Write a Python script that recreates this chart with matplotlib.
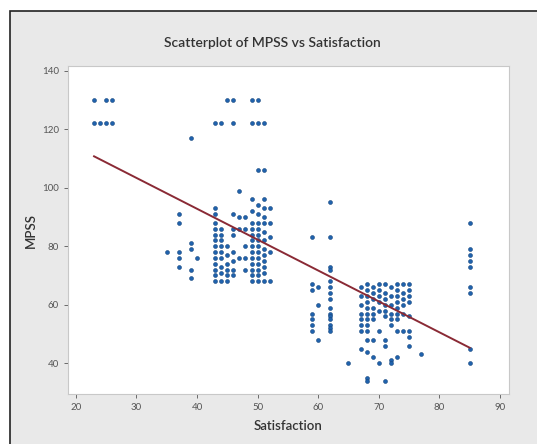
import matplotlib
matplotlib.use('Agg')
import matplotlib.pyplot as plt
from matplotlib.patches import Rectangle
import numpy as np

# satisfaction value -> MPSS values
columns = {
    23: [130, 122],
    24: [122],
    25: [130, 122],
    26: [130, 122],
    35: [78],
    37: [91, 88, 78, 76, 73],
    39: [117, 81, 79, 72, 69],
    40: [76],
    43: [122, 93, 91, 88, 86, 84, 82, 80, 78, 76, 74, 72, 70, 68],
    44: [122, 86, 84, 82, 80, 78, 76, 73, 71, 68],
    45: [130, 80, 77, 74, 72, 70, 68],
    46: [130, 122, 91, 86, 84, 78, 75, 72, 70],
    47: [99, 90, 86, 76],
    48: [90, 86, 80, 76, 72],
    49: [130, 122, 96, 92, 88, 86, 84, 82, 80, 78, 76, 74, 72, 70, 68],
    50: [130, 122, 106, 94, 91, 88, 86, 84, 82, 80, 78, 76, 74, 72, 70, 68],
    51: [122, 106, 96, 93, 90, 88, 85, 82, 79, 77, 75, 73, 71, 68],
    52: [93, 88, 83, 78, 68],
    59: [83, 67, 65, 57, 55, 53, 51],
    60: [66, 60, 48],
    62: [95, 83, 73, 72, 68, 66, 64, 62, 59, 57, 56, 55, 53, 52, 51],
    65: [40],
    67: [66, 63, 60, 57, 55, 53, 51, 45],
    68: [67, 65, 63, 61, 59, 57, 55, 53, 51, 48, 44, 35, 34],
    69: [66, 64, 62, 59, 57, 55, 48, 42],
    70: [67, 65, 63, 61, 58, 51, 40],
    71: [67, 64, 62, 60, 58, 56, 48, 46, 34],
    72: [66, 63, 60, 57, 55, 53, 41, 40],
    73: [67, 65, 63, 61, 59, 57, 55, 51, 42],
    74: [67, 64, 62, 60, 57, 51],
    75: [67, 65, 63, 61, 56, 51, 49, 46],
    77: [43],
    85: [88, 79, 77, 75, 73, 66, 64, 45, 40],
}
satisfaction = []
mpss = []
for k, vals in columns.items():
    for v in vals:
        satisfaction.append(k)
        mpss.append(v)

# fitted line
fit_intercept = 135.0
fit_slope = -1.055
fit_range = [23, 85]

xticks = [20, 30, 40, 50, 60, 70, 80, 90]
yticks = [40, 60, 80, 100, 120, 140]

plt.rcParams['font.family'] = ['Lato', 'DejaVu Sans']

W, H = 537, 444
fig = plt.figure(figsize=(W / 100, H / 100), dpi=100)
fig.patch.set_facecolor('white')
fig.patches.append(Rectangle((10 / W, -0.01), 1.02, (H - 11) / H + 0.01,
                             transform=fig.transFigure, facecolor='#e9e9e9',
                             edgecolor='#222222', linewidth=1.2, zorder=-5))

ax = fig.add_axes([68 / W, (H - 394) / H, 441 / W, 328 / H])
ax.set_zorder(2)
ax.set_facecolor('white')
ax.scatter(satisfaction, mpss, s=8, color='#1f62ad', edgecolors='#17467e',
           linewidths=0.4, zorder=3)
lx = np.array(fit_range)
ax.plot(lx, fit_intercept + fit_slope * lx, color='#8a2a35', linewidth=1.4, zorder=4)

ax.set_xlim(18.7, 91.5)
ax.set_ylim(29.5, 141.6)
ax.set_xticks(xticks)
ax.set_yticks(yticks)
ax.tick_params(labelsize=7, colors='#555555', length=3, width=0.6)
for s in ax.spines.values():
    s.set_color('#c8c8c8')
    s.set_linewidth(0.8)

ax.set_xlabel('Satisfaction', fontsize=9.5, fontweight='semibold', color='#333333', labelpad=6)
ax.set_ylabel('MPSS', fontsize=9.5, fontweight='semibold', color='#333333', labelpad=4)
fig.text(272 / W, 1 - 43 / H, 'Scatterplot of MPSS vs Satisfaction',
         ha='center', va='center', fontsize=10, fontweight='semibold', color='#333333')

fig.savefig('out.png', dpi=100)
